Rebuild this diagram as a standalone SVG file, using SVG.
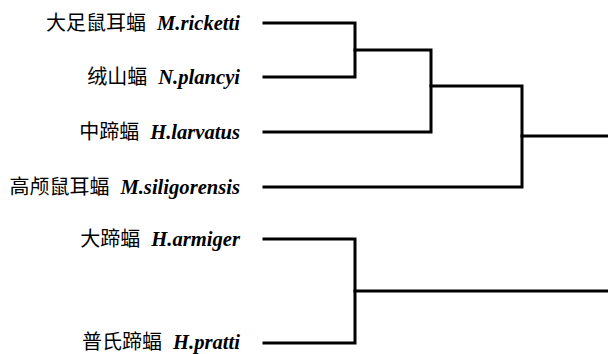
<svg xmlns="http://www.w3.org/2000/svg" width="608" height="354" viewBox="0 0 608 354">
  <style>
    .lbl { text-anchor: end; fill: #000; }
    .cn { font-family: "Noto Sans CJK SC", "Noto Sans CJK TC", serif; font-size: 20px; font-weight: normal; font-style: normal; }
    .sp { font-family: "Liberation Serif", "Times New Roman", serif; font-size: 20.6px; font-weight: bold; font-style: italic; }
    .br { fill: none; stroke: #000; stroke-width: 3; stroke-linejoin: miter; stroke-linecap: square; }
  </style>
  <rect width="608" height="354" fill="#fff"/>

  <!-- taxa labels -->
  <g id="m-ricketti"><text class="lbl" x="240" y="29.5"><tspan class="cn">大足鼠耳蝠</tspan><tspan class="sp" dx="11">M.ricketti</tspan></text></g>
  <g id="n-plancyi"><text class="lbl" x="240" y="84"><tspan class="cn">绒山蝠</tspan><tspan class="sp" dx="11">N.plancyi</tspan></text></g>
  <g id="h-larvatus"><text class="lbl" x="240" y="138.5"><tspan class="cn">中蹄蝠</tspan><tspan class="sp" dx="11">H.larvatus</tspan></text></g>
  <g id="m-siligorensis"><text class="lbl" x="240" y="193.5"><tspan class="cn">高颅鼠耳蝠</tspan><tspan class="sp" dx="11">M.siligorensis</tspan></text></g>
  <g id="h-armiger"><text class="lbl" x="240" y="246"><tspan class="cn">大蹄蝠</tspan><tspan class="sp" dx="11">H.armiger</tspan></text></g>
  <g id="h-pratti"><text class="lbl" x="240" y="349"><tspan class="cn">普氏蹄蝠</tspan><tspan class="sp" dx="11">H.pratti</tspan></text></g>

  <!-- tree branches -->
  <g id="branches">
    <path class="br" d="M264,23 H355 V77 H264"/>
    <path class="br" d="M355,50 H431 V132 H264"/>
    <path class="br" d="M431,86 H522 V187 H264"/>
    <path class="br" d="M522,136 H608"/>
    <path class="br" d="M264,239 H355 V343 H264"/>
    <path class="br" d="M355,291 H608"/>
  </g>
</svg>
